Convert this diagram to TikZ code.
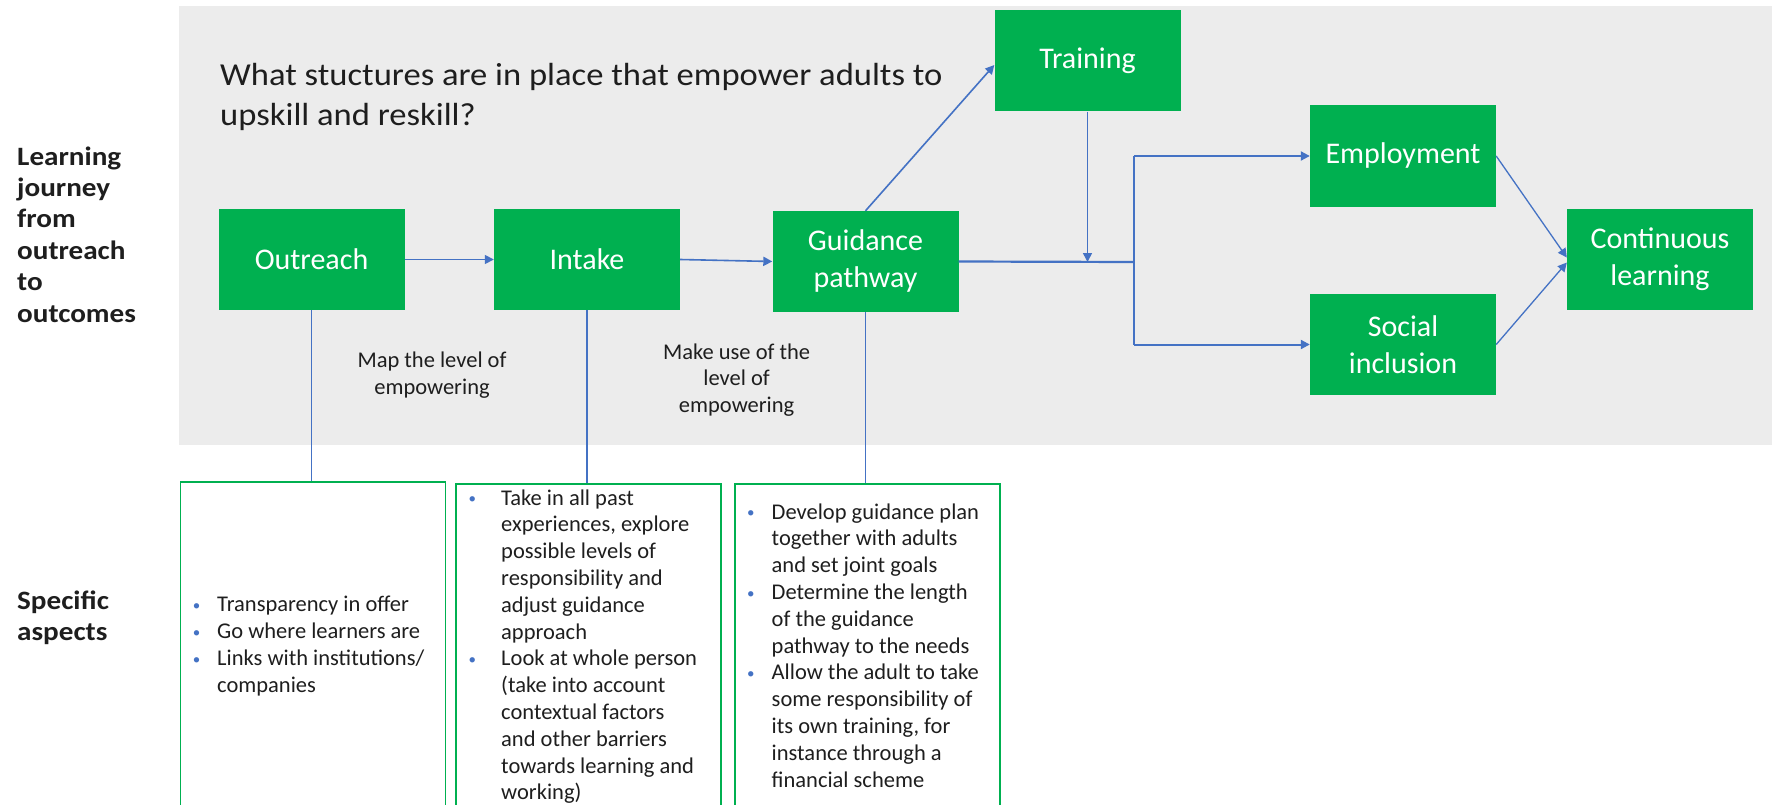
\documentclass[tikz,border=0pt]{standalone}
\usepackage{fontspec}
\setmainfont{Carlito}
\newfontfamily\widefam{Carlito}[FakeStretch=1.08]
\newfontfamily\sidefam{Carlito}[FakeStretch=1.1]
\usetikzlibrary{arrows.meta,calc}

\definecolor{egreen}{HTML}{00B050}
\definecolor{egray}{HTML}{ECECEC}
\definecolor{eblue}{HTML}{4472C4}
\definecolor{etext}{HTML}{1E1E1E}

\newcommand\labelfont{\fontsize{30}{37}\selectfont}
\newcommand\titlefont{\widefam\fontsize{32}{40}\selectfont}
\newcommand\sidefont{\sidefam\bfseries\fontsize{26.5}{31.4}\selectfont}
\newcommand\smallfont{\fontsize{22.5}{26.8}\selectfont}
\newcommand\blt[1]{\makebox[#1][l]{\raisebox{1.5pt}{\textcolor{eblue}{\fontsize{15}{15}\selectfont\textbullet}}}}
\newcommand\ind[1]{\hspace*{#1}}

\tikzset{
  stepbox/.style={fill=egreen, text=white, minimum width=186pt, minimum height=101pt,
    inner sep=0pt, font=\labelfont, align=center},
  aspectbox/.style={draw=egreen, line width=1.5pt, minimum width=265pt, minimum height=345pt,
    inner sep=0pt, anchor=north west},
  textblock/.style={inner sep=0pt, text=etext, align=left, anchor=north west},
  note/.style={inner sep=0pt, text=etext, align=center, anchor=north, font=\smallfont},
  flow/.style={draw=eblue, line width=1.6pt, -{Triangle[length=9pt,width=9pt]}},
  link/.style={draw=eblue, line width=1.3pt},
  trunk/.style={draw=eblue, line width=2.2pt},
}

\begin{document}
\begin{tikzpicture}[x=1pt,y=-1pt]
  \useasboundingbox (0,0) rectangle (1779,805);
  \clip (0,0) rectangle (1779,805);

  % shaded band behind the journey
  \fill[egray] (178.5,6) rectangle (1772,445);

  % side headings
  \node[textblock, font=\sidefont] (sideA) at (17,143)
    {\strut Learning\\journey\\from\\outreach\\to\\outcomes};
  \node[textblock, font=\sidefont] (sideB) at (17,587)
    {\strut Specific\\aspects};

  % question
  \node[textblock, font=\titlefont] (title) at (220,57)
    {\strut What stuctures are in place that empower adults to\\upskill and reskill?};

  % journey steps
  \node[stepbox] (outreach) at (311.5,259.5) {Outreach};
  \node[stepbox] (intake) at (587,259.5) {Intake};
  \node[stepbox] (guidance) at (865.5,261.5) {Guidance\\pathway};
  \node[stepbox] (training) at (1087.5,61) {Training};
  \node[stepbox] (employment) at (1403,156) {Employment};
  \node[stepbox] (social) at (1403,344.5) {Social\\inclusion};
  \node[stepbox] (continuous) at (1660,259.5) {Continuous\\learning};

  % connectors between steps
  \coordinate (split) at (1134,262);
  \draw[flow] (outreach.east) -- (intake.west);
  \draw[flow] (intake.east) -- (guidance.west);
  \draw[flow] (guidance.north) -- ($(training.west)+(0,4)$);
  \draw[trunk] (guidance.east) -- (split);
  \draw[flow] (training.south) -- (training.south |- split);
  \draw[trunk] (split |- employment.west) -- (split |- social.west);
  \draw[flow, line width=2pt] (split |- employment.west) -- (employment.west);
  \draw[flow, line width=2pt] (split |- social.west) -- (social.west);
  \draw[flow, line width=1.3pt] (employment.east) -- ($(continuous.west)+(0,-2)$);
  \draw[flow, line width=1.3pt] (social.east) -- ($(continuous.west)+(0,3)$);

  % notes between the steps
  \node[note] (noteA) at (432,349) {\strut Map the level of\\empowering};
  \node[note] (noteB) at (736.6,340.2) {\strut Make use of the\\level of\\empowering};

  % aspect boxes
  \node[aspectbox] (asp1) at (179.5,481) {};
  \node[aspectbox] (asp2) at (455,483) {};
  \node[aspectbox] (asp3) at (734,483) {};

  \draw[link] (outreach.south) -- (outreach.south |- asp1.north);
  \draw[link] (intake.south) -- (intake.south |- asp2.north);
  \draw[link] (guidance.south) -- (guidance.south |- asp3.north);

  \node[textblock, font=\smallfont] (list1) at (192.7,593)
    {\strut\blt{24.3pt}Transparency in offer\\
     \blt{24.3pt}Go where learners are\\
     \blt{24.3pt}Links with institutions/\\
     \ind{24.3pt}companies};
  \node[textblock, font=\smallfont] (list2) at (468.5,486.2)
    {\strut\blt{32.5pt}Take in all past\\
     \ind{32.5pt}experiences, explore\\
     \ind{32.5pt}possible levels of\\
     \ind{32.5pt}responsibility and\\
     \ind{32.5pt}adjust guidance\\
     \ind{32.5pt}approach\\
     \blt{32.5pt}Look at whole person\\
     \ind{32.5pt}(take into account\\
     \ind{32.5pt}contextual factors\\
     \ind{32.5pt}and other barriers\\
     \ind{32.5pt}towards learning and\\
     \ind{32.5pt}working)};
  \node[textblock, font=\smallfont] (list3) at (747,500.2)
    {\strut\blt{24.5pt}Develop guidance plan\\
     \ind{24.5pt}together with adults\\
     \ind{24.5pt}and set joint goals\\
     \blt{24.5pt}Determine the length\\
     \ind{24.5pt}of the guidance\\
     \ind{24.5pt}pathway to the needs\\
     \blt{24.5pt}Allow the adult to take\\
     \ind{24.5pt}some responsibility of\\
     \ind{24.5pt}its own training, for\\
     \ind{24.5pt}instance through a\\
     \ind{24.5pt}financial scheme};
\end{tikzpicture}
\end{document}
